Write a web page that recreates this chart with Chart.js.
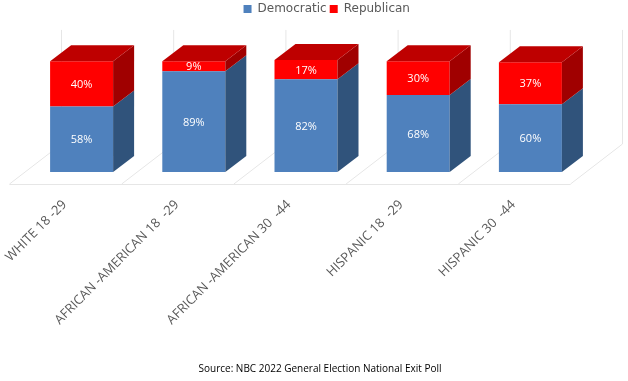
<!DOCTYPE html>
<html>
<head>
<meta charset="utf-8">
<style>
  body { margin: 0; background: #fff; }
  canvas { display: block; }
</style>
<script src="https://cdn.jsdelivr.net/npm/chart.js@4"></script>
</head>
<body>
<canvas id="myChart" width="628" height="381"></canvas>
<script>
const categories = ["WHITE 18 -29", "AFRICAN -AMERICAN 18  -29", "AFRICAN -AMERICAN 30  -44", "HISPANIC 18  -29", "HISPANIC 30  -44"];
const democratic = [58, 89, 82, 68, 60];
const republican = [40, 9, 17, 30, 37];
const sourceText = "Source: NBC 2022 General Election National Exit Poll";

const blue = "#4F81BD", blueSide = "#30537B";
const red = "#FF0000", redSide = "#A00000", redTop = "#BE0000";
const gridColor = "#E6E6E6";
const labelFont = "11px 'Open Sans'";

// fake 3D: the bars are normal, faces and floor are added around them
const depthX = 21, depthY = 16;
const wallX = 36, wallY = 28, floorX = 16, floorY = 12;

const cube3d = {
    id: "cube3d",
    beforeDatasetsDraw(chart) {
        const ctx = chart.ctx;
        const x = chart.scales.x, y = chart.scales.y;
        const base = y.getPixelForValue(0);
        const top = y.getPixelForValue(100);
        const step = (x.right - x.left) / categories.length;
        ctx.save();
        ctx.strokeStyle = gridColor;
        ctx.lineWidth = 1;
        ctx.beginPath();
        ctx.moveTo(x.left - floorX, base + floorY + 0.5);
        ctx.lineTo(x.right - floorX, base + floorY + 0.5);
        for (let i = 0; i <= categories.length; i++) {
            const gx = x.left + i * step;
            ctx.moveTo(gx - floorX, base + floorY);
            ctx.lineTo(gx + wallX, base - wallY);
            ctx.lineTo(gx + wallX, top - wallY - 1);
        }
        ctx.stroke();
        ctx.restore();
    },
    afterDatasetsDraw(chart) {
        const ctx = chart.ctx;
        const sideColors = [blueSide, redSide];
        ctx.save();
        chart.data.datasets.forEach((ds, d) => {
            chart.getDatasetMeta(d).data.forEach((bar, i) => {
                const right = bar.x + bar.width / 2;
                const left = bar.x - bar.width / 2;
                ctx.fillStyle = sideColors[d];
                ctx.beginPath();
                ctx.moveTo(right, bar.y);
                ctx.lineTo(right + depthX, bar.y - depthY);
                ctx.lineTo(right + depthX, bar.base - depthY);
                ctx.lineTo(right, bar.base);
                ctx.closePath();
                ctx.fill();
                if (d === chart.data.datasets.length - 1) {
                    ctx.fillStyle = redTop;
                    ctx.beginPath();
                    ctx.moveTo(left, bar.y);
                    ctx.lineTo(left + depthX, bar.y - depthY);
                    ctx.lineTo(right + depthX, bar.y - depthY);
                    ctx.lineTo(right, bar.y);
                    ctx.closePath();
                    ctx.fill();
                }
                // valeur au centre de la barre
                ctx.fillStyle = "#fff";
                ctx.font = labelFont;
                ctx.textAlign = "center";
                ctx.textBaseline = "middle";
                ctx.fillText(ds.data[i] + "%", bar.x, (bar.y + bar.base) / 2 + 1);
            });
        });
        ctx.fillStyle = "#000";
        ctx.font = "10px 'Open Sans'";
        ctx.textAlign = "center";
        ctx.textBaseline = "middle";
        ctx.fillText(sourceText, 320, 369);
        ctx.restore();
    }
};

new Chart(document.getElementById("myChart"), {
    type: "bar",
    data: {
        labels: categories,
        datasets: [
            { label: "Democratic", data: democratic, backgroundColor: blue },
            { label: "Republican", data: republican, backgroundColor: red }
        ]
    },
    options: {
        responsive: false,
        animation: false,
        layout: { padding: { left: 25.5, right: 0, top: 0, bottom: 0 } },
        plugins: {
            tooltip: { enabled: false },
            legend: {
                position: "top",
                labels: {
                    boxWidth: 8,
                    boxHeight: 8,
                    padding: 3,
                    color: "#595959",
                    font: { family: "DejaVu Sans", size: 12 }
                }
            }
        },
        datasets: { bar: { barPercentage: 0.5615, categoryPercentage: 1 } },
        scales: {
            x: {
                stacked: true,
                grid: { display: false },
                border: { display: false },
                afterFit(scale) { scale.height = 209; },
                ticks: {
                    color: "#595959",
                    font: { family: "Open Sans", size: 13 },
                    minRotation: 45,
                    maxRotation: 45,
                    padding: 17,
                    labelOffset: -17,
                    autoSkip: false
                }
            },
            y: {
                stacked: true,
                position: "right",
                min: 0,
                max: 130,
                grid: { display: false },
                border: { display: false },
                ticks: { display: false },
                afterFit(scale) { scale.width = 41.5; }
            }
        }
    },
    plugins: [cube3d]
});
</script>
</body>
</html>
